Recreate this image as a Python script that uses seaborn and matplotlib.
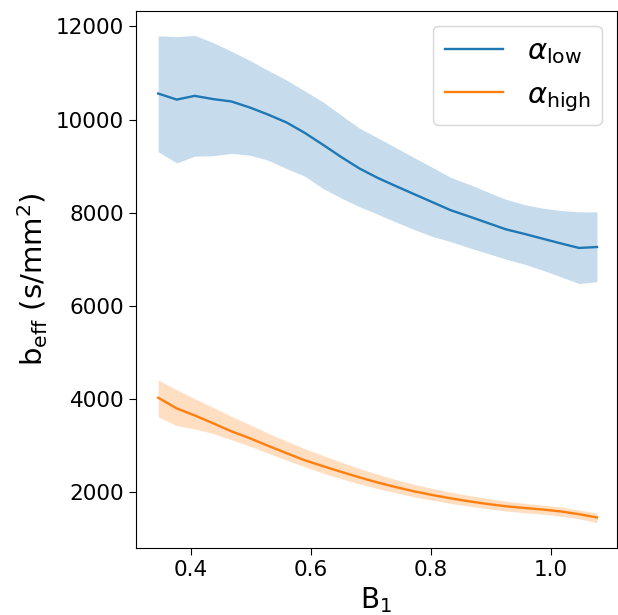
import matplotlib
matplotlib.use("Agg")
import matplotlib.pyplot as plt
import seaborn as sns
import pandas as pd

b1 = [0.345, 0.376, 0.406, 0.437, 0.467, 0.498, 0.528, 0.559, 0.589, 0.620,
      0.650, 0.681, 0.711, 0.742, 0.772, 0.803, 0.833, 0.864, 0.894, 0.925,
      0.955, 0.986, 1.016, 1.047, 1.077]

low_mean = [10560, 10430, 10510, 10440, 10390, 10260, 10110, 9940, 9720, 9460,
            9200, 8950, 8750, 8570, 8400, 8225, 8055, 7920, 7785, 7645,
            7550, 7445, 7345, 7245, 7265]
low_upper = [11800, 11780, 11810, 11650, 11470, 11270, 11060, 10850, 10620, 10380,
             10100, 9815, 9610, 9395, 9185, 8970, 8760, 8610, 8450, 8290,
             8180, 8100, 8050, 8020, 8020]
low_lower = [9310, 9070, 9215, 9225, 9275, 9235, 9130, 8950, 8790, 8520,
             8320, 8130, 7970, 7800, 7640, 7490, 7380, 7250, 7130, 7005,
             6900, 6770, 6630, 6480, 6520]

high_mean = [4030, 3800, 3650, 3480, 3310, 3160, 3000, 2840, 2690, 2560,
             2440, 2320, 2210, 2110, 2020, 1940, 1870, 1805, 1750, 1700,
             1665, 1630, 1590, 1530, 1460]
high_upper = [4410, 4200, 4010, 3820, 3630, 3450, 3270, 3100, 2940, 2790,
              2650, 2510, 2390, 2270, 2170, 2080, 2000, 1930, 1870, 1810,
              1765, 1725, 1685, 1620, 1550]
high_lower = [3620, 3430, 3360, 3260, 3130, 2990, 2840, 2690, 2550, 2410,
              2290, 2180, 2080, 1990, 1900, 1830, 1760, 1700, 1650, 1600,
              1560, 1530, 1490, 1430, 1350]

labels = [r"$\alpha_{\rm low}$", r"$\alpha_{\rm high}$"]
colors = ["#1f77b4", "#ff7f0e"]
x_ticks = [0.4, 0.6, 0.8, 1.0]
y_ticks = [2000, 4000, 6000, 8000, 10000, 12000]

df_low = pd.DataFrame({"B1": b1, "mean": low_mean, "lo": low_lower, "hi": low_upper})
df_high = pd.DataFrame({"B1": b1, "mean": high_mean, "lo": high_lower, "hi": high_upper})

fig = plt.figure(figsize=(6.18, 6.15), dpi=100)
ax = fig.add_axes([0.220, 0.109, 0.778, 0.873])

for df, lab, col in [(df_low, labels[0], colors[0]), (df_high, labels[1], colors[1])]:
    ax.fill_between(df["B1"], df["lo"], df["hi"], color=col, alpha=0.25, linewidth=0)
    sns.lineplot(data=df, x="B1", y="mean", color=col, label=lab, ax=ax, linewidth=1.7)

ax.set_xlim(0.308, 1.11)
ax.set_ylim(805, 12330)
ax.set_xticks(x_ticks)
ax.set_yticks(y_ticks)
ax.tick_params(labelsize=15.5, length=5)
ax.set_xlabel(r"B$_1$", fontsize=20)
ax.set_ylabel(r"b$_{\rm eff}$ (s/mm$^2$)", fontsize=21)
ax.legend(loc="upper right", fontsize=21, handlelength=2.0)

fig.savefig("out.png", dpi=100)
